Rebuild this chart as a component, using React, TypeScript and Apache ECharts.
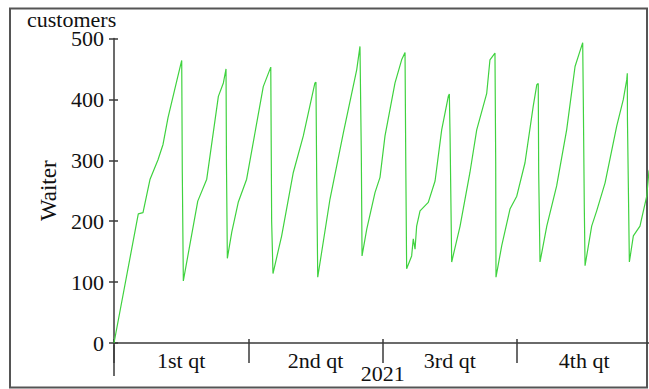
import React, { useEffect, useRef } from "react";
import * as echarts from "echarts";

const quarters = ["1st qt", "2nd qt", "3rd qt", "4th qt"];
const yTicks = [0, 100, 200, 300, 400, 500];

// day of year (0..365)
const days = [
  0, 16.5, 19.7, 24.5, 29.9, 33.3, 36.7, 42.8, 46.0, 46.4, 47.1,
  56.9, 63.0, 70.9, 74.3, 76.1, 76.4, 77.0,
  80.0, 84.4, 90.1, 101.4, 106.5, 107.1, 108.0,
  113.9, 121.8, 128.6, 136.5, 137.2, 137.7, 138.4,
  146.7, 155.8, 164.9, 167.1, 168.0, 168.5,
  171.7, 177.3, 180.7, 184.1, 190.9, 195.4, 197.7, 198.2, 198.8,
  202.2, 203.3, 204.5, 205.6, 207.9, 213.5, 218.1, 222.6, 227.1, 227.8, 228.3, 229.4,
  235.1, 241.8, 246.4, 253.2, 255.4, 258.8, 259.3, 259.5,
  263.4, 269.0, 273.6, 279.2, 284.8, 287.2, 288.2, 288.5, 289.4,
  294.0, 300.7, 307.5, 313.2, 316.1, 318.4, 318.8, 319.5, 320.0,
  324.5, 327.9, 333.6, 341.5, 346.0, 348.3, 348.7, 348.8, 350.1,
  352.8, 357.3, 361.9, 363.4, 365,
];

// customers waiting
const customers = [
  0, 212, 214, 269, 301, 326, 370, 432, 464, 280, 102,
  233, 269, 405, 427, 450, 293, 139,
  182, 231, 269, 421, 453, 199, 114,
  176, 280, 340, 427, 428, 269, 108,
  236, 345, 449, 487, 312, 143,
  187, 247, 272, 340, 427, 465, 477, 299, 122,
  143, 171, 154, 192, 217, 231, 266, 350, 405, 409, 340, 133,
  192, 280, 350, 410, 465, 476, 296, 108,
  160, 220, 241, 296, 389, 424, 426, 280, 133,
  192, 258, 350, 454, 476, 493, 402, 220, 127,
  192, 217, 263, 356, 400, 432, 443, 367, 133,
  176, 192, 241, 282, 292,
];

const FONT = "Liberation Serif";
const AXIS = "#3a3a3a";
const TEXT = "#111";

export default function App() {
  const ref = useRef<HTMLDivElement>(null);
  useEffect(() => {
    if (!ref.current) return;
    const chart = echarts.init(ref.current, undefined, { renderer: "svg" });
    const gridLeft = 114;
    const gridTop = 38.5;
    const gridBottom = 44.5;
    const H = 389;
    const data = days.map((d, i) => [d, customers[i]]);
    chart.setOption({
      animation: false,
      backgroundColor: "#fff",
      title: {
        text: "customers",
        left: 22,
        top: 3,
        textStyle: { fontFamily: FONT, fontSize: 22, fontWeight: "normal", color: TEXT },
      },
      grid: { left: gridLeft, top: gridTop, bottom: gridBottom, right: 8.7, containLabel: false },
      xAxis: [
        {
          type: "value",
          min: 0,
          max: 365,
          position: "bottom",
          axisLine: { show: true, lineStyle: { color: AXIS, width: 1.5 } },
          axisTick: { show: false },
          axisLabel: { show: false },
          splitLine: { show: false },
          name: "2021",
          nameLocation: "middle",
          nameGap: 19,
          nameTextStyle: { fontFamily: FONT, fontSize: 22, color: TEXT },
        },
        {
          type: "category",
          data: quarters,
          position: "bottom",
          boundaryGap: true,
          axisLine: { show: false },
          axisTick: { show: true, interval: 0, length: 20, lineStyle: { color: AXIS, width: 1.5 } },
          axisLabel: { fontFamily: FONT, fontSize: 22, color: TEXT, margin: 6, interval: 0 },
          splitLine: { show: false },
        },
        {
          type: "category",
          data: quarters,
          position: "bottom",
          boundaryGap: true,
          axisLine: { show: false },
          axisTick: { show: true, inside: true, interval: 0, length: 4, lineStyle: { color: AXIS, width: 1.5 } },
          axisLabel: { show: false },
          splitLine: { show: false },
        },
      ],
      yAxis: [
        {
          type: "value",
          min: yTicks[0],
          max: yTicks[yTicks.length - 1],
          interval: 100,
          position: "left",
          axisLine: { show: true, lineStyle: { color: AXIS, width: 1.5 } },
          axisTick: { show: true, length: 5, lineStyle: { color: AXIS, width: 1.5 } },
          axisLabel: { fontFamily: FONT, fontSize: 22, color: TEXT, margin: 10 },
          splitLine: { show: false },
          name: "Waiter",
          nameLocation: "middle",
          nameGap: 48,
          nameRotate: 90,
          nameTextStyle: { fontFamily: FONT, fontSize: 23, color: TEXT },
        },
        {
          type: "value",
          min: yTicks[0],
          max: yTicks[yTicks.length - 1],
          interval: 100,
          position: "left",
          axisLine: { show: false },
          axisTick: { show: true, inside: true, length: 4, lineStyle: { color: AXIS, width: 1.5 } },
          axisLabel: { show: false },
          splitLine: { show: false },
        },
      ],
      series: [
        {
          type: "line",
          xAxisIndex: 0,
          yAxisIndex: 0,
          data,
          showSymbol: false,
          lineStyle: { color: "#3fd23f", width: 1.2 },
          clip: true,
        },
      ],
      graphic: [
        {
          type: "rect",
          shape: { x: 10, y: 8.5, width: 637, height: 379 },
          style: { fill: "none", stroke: "#555", lineWidth: 2 },
          silent: true,
        },
        {
          type: "line",
          shape: { x1: gridLeft, y1: H - gridBottom, x2: gridLeft, y2: 376 },
          style: { stroke: AXIS, lineWidth: 1.5 },
          silent: true,
        },
      ],
    });
    return () => chart.dispose();
  }, []);
  return (
    <div
      ref={ref}
      style={{ position: "absolute", left: 0, top: 0, width: 660, height: 389, overflow: "hidden" }}
    />
  );
}
